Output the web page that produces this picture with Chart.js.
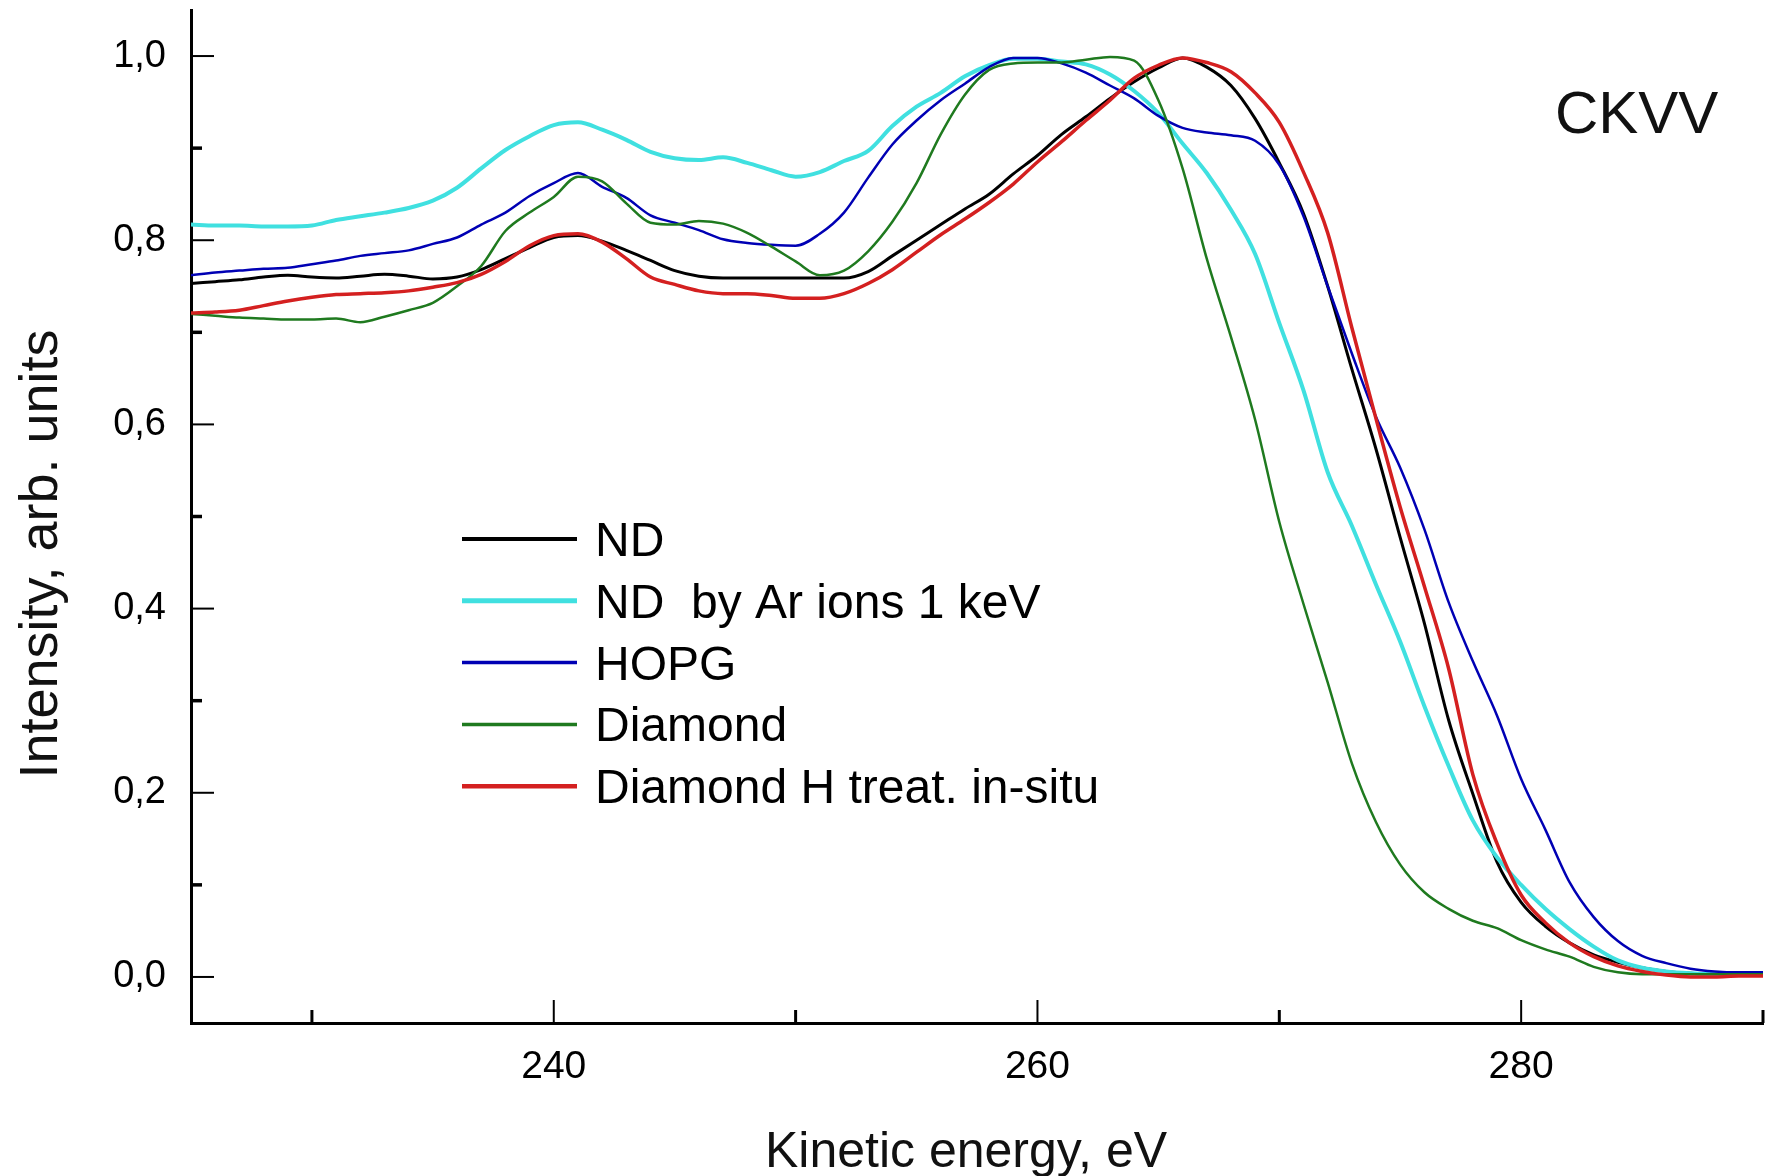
<!DOCTYPE html>
<html>
<head>
<meta charset="utf-8">
<title>CKVV Auger spectra</title>
<script src="https://cdn.jsdelivr.net/npm/chart.js@4.4.1/dist/chart.umd.min.js"></script>
<style>
  html, body { margin: 0; padding: 0; background: #fff; }
  #wrap { width: 1777px; height: 1176px; position: relative; }
</style>
</head>
<body>
<div id="wrap"><canvas id="spectra"></canvas></div>
<script>
// kinetic energy grid, eV
const energy = [
  225, 226, 227, 228, 229, 230, 231, 232, 233, 234,
  235, 236, 237, 238, 239, 240, 241, 242, 243, 244,
  245, 246, 247, 248, 249, 250, 251, 252, 253, 254,
  255, 256, 257, 258, 259, 260, 261, 262, 263, 264,
  265, 266, 267, 268, 269, 270, 271, 272, 273, 274,
  275, 276, 277, 278, 279, 280, 281, 282, 283, 284,
  285, 286, 287, 288, 289, 290
];

// normalised intensities, arb. units
const ndValues = [
  0.753, 0.755, 0.757, 0.760, 0.762, 0.760, 0.759, 0.761, 0.763, 0.761,
  0.758, 0.760, 0.768, 0.780, 0.792, 0.803, 0.805, 0.799, 0.789, 0.778,
  0.767, 0.761, 0.759, 0.759, 0.759, 0.759, 0.759, 0.759, 0.766, 0.783,
  0.800, 0.817, 0.834, 0.850, 0.872, 0.892, 0.915, 0.934, 0.954, 0.972,
  0.987, 0.998, 0.988, 0.968, 0.932, 0.884, 0.829, 0.750, 0.660, 0.573,
  0.477, 0.384, 0.279, 0.199, 0.125, 0.081, 0.055, 0.037, 0.024, 0.016,
  0.010, 0.006, 0.004, 0.003, 0.003, 0.003
];

const ndArValues = [
  0.817, 0.816, 0.816, 0.815, 0.815, 0.816, 0.822, 0.826, 0.830, 0.835,
  0.843, 0.857, 0.878, 0.898, 0.913, 0.925, 0.928, 0.920, 0.909, 0.896,
  0.889, 0.887, 0.890, 0.884, 0.876, 0.869, 0.874, 0.886, 0.897, 0.924,
  0.945, 0.960, 0.978, 0.990, 0.997, 0.997, 0.994, 0.991, 0.980, 0.962,
  0.938, 0.905, 0.873, 0.833, 0.785, 0.710, 0.637, 0.548, 0.490, 0.426,
  0.364, 0.294, 0.229, 0.170, 0.130, 0.100, 0.074, 0.052, 0.033, 0.018,
  0.010, 0.006, 0.004, 0.003, 0.003, 0.003
];

const hopgValues = [
  0.762, 0.765, 0.767, 0.769, 0.770, 0.774, 0.778, 0.783, 0.786, 0.789,
  0.796, 0.803, 0.817, 0.830, 0.848, 0.862, 0.873, 0.858, 0.846, 0.827,
  0.819, 0.811, 0.801, 0.797, 0.795, 0.794, 0.807, 0.830, 0.868, 0.904,
  0.930, 0.952, 0.970, 0.988, 0.998, 0.998, 0.992, 0.982, 0.968, 0.954,
  0.935, 0.922, 0.917, 0.914, 0.908, 0.882, 0.826, 0.750, 0.677, 0.608,
  0.553, 0.486, 0.407, 0.343, 0.284, 0.215, 0.160, 0.103, 0.065, 0.039,
  0.023, 0.015, 0.009, 0.006, 0.005, 0.005
];

const diamondValues = [
  0.720, 0.718, 0.716, 0.715, 0.714, 0.714, 0.715, 0.711, 0.717, 0.724,
  0.732, 0.750, 0.772, 0.810, 0.830, 0.847, 0.869, 0.864, 0.840, 0.819,
  0.817, 0.821, 0.818, 0.808, 0.793, 0.777, 0.762, 0.767, 0.788, 0.820,
  0.862, 0.915, 0.958, 0.985, 0.992, 0.993, 0.993, 0.996, 0.999, 0.995,
  0.952, 0.878, 0.780, 0.695, 0.605, 0.494, 0.405, 0.320, 0.232, 0.168,
  0.122, 0.092, 0.074, 0.061, 0.053, 0.040, 0.030, 0.022, 0.011, 0.005,
  0.003, 0.003, 0.003, 0.003, 0.003, 0.003
];

const diamondHValues = [
  0.721, 0.722, 0.724, 0.729, 0.734, 0.738, 0.741, 0.742, 0.743, 0.745,
  0.749, 0.754, 0.763, 0.777, 0.794, 0.805, 0.807, 0.798, 0.780, 0.760,
  0.752, 0.745, 0.742, 0.742, 0.740, 0.737, 0.737, 0.742, 0.753, 0.768,
  0.787, 0.806, 0.823, 0.841, 0.861, 0.885, 0.907, 0.930, 0.952, 0.976,
  0.990, 0.998, 0.993, 0.983, 0.960, 0.928, 0.874, 0.808, 0.705, 0.606,
  0.510, 0.424, 0.335, 0.220, 0.145, 0.089, 0.059, 0.037, 0.022, 0.012,
  0.006, 0.002, 0.000, 0.000, 0.001, 0.001
];

// tick positions; every other one carries a label
const xTickValues = [230, 240, 250, 260, 270, 280, 290];
const yTickValues = [0, 0.1, 0.2, 0.3, 0.4, 0.5, 0.6, 0.7, 0.8, 0.9, 1.0];

const seriesNames = ["ND", "ND  by Ar ions 1 keV", "HOPG", "Diamond", "Diamond H treat. in-situ"];
const transitionLabel = "CKVV";
const xTitle = "Kinetic energy, eV";
const yTitle = "Intensity, arb. units";

const FONT = '"Liberation Sans", Arial, Helvetica, sans-serif';

const toPoints = (values) => values.map((v, i) => ({ x: energy[i], y: v }));
const isLabelledX = (v) => v % 20 === 0;
const isLabelledY = (v) => Math.round(v * 10) % 2 === 0;

// inward ticks, inline legend, axis captions and the transition label
const spectrumDecor = {
  id: "spectrumDecor",
  afterDraw(chart) {
    const { ctx, scales: { x, y } } = chart;
    ctx.save();
    ctx.strokeStyle = "#000";
    ctx.lineCap = "butt";

    x.ticks.forEach((t) => {
      const px = x.getPixelForValue(t.value);
      const major = isLabelledX(t.value);
      ctx.lineWidth = major ? 2 : 3;
      ctx.beginPath();
      ctx.moveTo(px, x.top);
      ctx.lineTo(px, x.top - (major ? 23 : 13));
      ctx.stroke();
    });

    y.ticks.forEach((t) => {
      const py = y.getPixelForValue(t.value);
      const major = isLabelledY(t.value);
      ctx.lineWidth = major ? 2 : 3.5;
      ctx.beginPath();
      ctx.moveTo(y.right, py);
      ctx.lineTo(y.right + (major ? 23 : 11), py);
      ctx.stroke();
    });

    // legend
    ctx.font = "48px " + FONT;
    ctx.textAlign = "left";
    ctx.textBaseline = "alphabetic";
    chart.data.datasets.forEach((ds, i) => {
      const rowY = 539 + i * 61.8;
      ctx.strokeStyle = ds.borderColor;
      ctx.lineWidth = ds.borderWidth + 1;
      ctx.beginPath();
      ctx.moveTo(462, rowY);
      ctx.lineTo(577, rowY);
      ctx.stroke();
      ctx.fillStyle = "#000";
      ctx.fillText(ds.label, 595, rowY + 17);
    });

    ctx.fillStyle = "#111";
    ctx.font = "60px " + FONT;
    ctx.fillText(transitionLabel, 1555, 133);

    ctx.font = "50px " + FONT;
    ctx.textAlign = "center";
    ctx.fillText(xTitle, 966, 1167);

    ctx.translate(57, 554);
    ctx.rotate(-Math.PI / 2);
    ctx.font = "54px " + FONT;
    ctx.fillText(yTitle, 0, 0);

    ctx.restore();
  }
};

const ctx = document.getElementById("spectra").getContext("2d");

new Chart(ctx, {
  type: "line",
  data: {
    datasets: [
      { label: seriesNames[0], data: toPoints(ndValues), borderColor: "#000000", borderWidth: 3, order: 5 },
      { label: seriesNames[1], data: toPoints(ndArValues), borderColor: "#40e0e0", borderWidth: 4, order: 4 },
      { label: seriesNames[2], data: toPoints(hopgValues), borderColor: "#0000b4", borderWidth: 2.5, order: 3 },
      { label: seriesNames[3], data: toPoints(diamondValues), borderColor: "#1f7a1f", borderWidth: 2.5, order: 2 },
      { label: seriesNames[4], data: toPoints(diamondHValues), borderColor: "#d42020", borderWidth: 3.5, order: 1 }
    ]
  },
  options: {
    responsive: true,
    maintainAspectRatio: false,
    animation: false,
    devicePixelRatio: 1,
    layout: { padding: { left: 0, right: 14, top: 10, bottom: 0 } },
    elements: {
      point: { radius: 0 },
      line: { cubicInterpolationMode: "monotone", fill: false }
    },
    plugins: {
      legend: { display: false },
      tooltip: { enabled: false }
    },
    scales: {
      x: {
        type: "linear",
        min: 225,
        max: 290,
        grid: { display: false, drawTicks: false },
        border: { display: true, color: "#000", width: 3 },
        afterBuildTicks: (scale) => {
          scale.ticks = xTickValues.map((v) => ({ value: v }));
        },
        ticks: {
          padding: 21,
          color: "#000",
          font: { family: FONT, size: 39 },
          maxRotation: 0,
          autoSkip: false,
          callback: (v) => (isLabelledX(v) ? String(v) : "")
        },
        afterFit: (scale) => {
          scale.height = 153;
          scale.paddingLeft = 0;
          scale.paddingRight = 0;
        }
      },
      y: {
        min: -0.05,
        max: 1.05,
        grid: { display: false, drawTicks: false },
        border: { display: true, color: "#000", width: 3 },
        afterBuildTicks: (scale) => {
          scale.ticks = yTickValues.map((v) => ({ value: v }));
        },
        ticks: {
          padding: 25,
          color: "#000",
          font: { family: FONT, size: 38 },
          autoSkip: false,
          callback: (v) => (isLabelledY(v) ? v.toFixed(1).replace(".", ",") : "")
        },
        afterFit: (scale) => {
          scale.width = 191;
          scale.paddingTop = 0;
          scale.paddingBottom = 0;
        }
      }
    }
  },
  plugins: [spectrumDecor]
});
</script>
</body>
</html>
